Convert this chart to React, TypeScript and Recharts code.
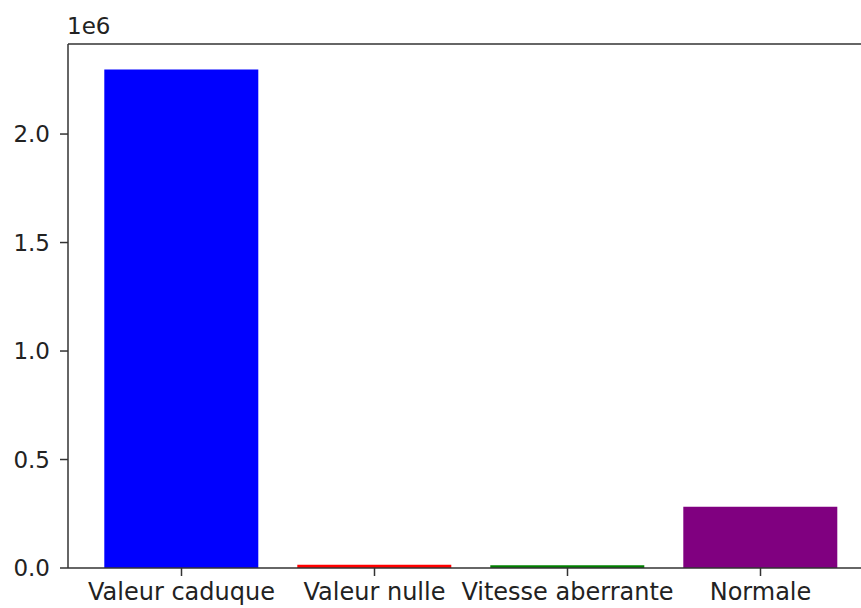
import { Bar, BarChart, Cell, ReferenceLine, XAxis, YAxis } from "recharts"

const categories = ["Valeur caduque", "Valeur nulle", "Vitesse aberrante", "Normale"]
const counts = [2298000, 15000, 13000, 282000]
const barColors = ["#0000ff", "#ff0000", "#008000", "#800080"]
const yTicks = [0, 500000, 1000000, 1500000, 2000000]
const yMax = 2415000

const data = categories.map((name, i) => ({ name, count: counts[i] }))

const font = "'DejaVu Sans', sans-serif"
const axisColor = "#333"

export default function App() {
    return (
        <div style={{ position: "fixed", left: 0, top: 0, width: 861, height: 608, overflow: "hidden", background: "#fff", fontFamily: font }}>
            <div style={{ position: "absolute", left: 67, top: 13, fontSize: 23, color: "#222" }}>1e6</div>
            <BarChart
                width={894}
                height={608}
                data={data}
                margin={{ top: 44, right: 20, bottom: 0, left: 0 }}
                barCategoryGap="10%"
            >
                <XAxis
                    dataKey="name"
                    height={40}
                    padding={{ left: 17, right: 17 }}
                    stroke={axisColor}
                    strokeWidth={1.5}
                    tickSize={8}
                    tickMargin={7}
                    tick={{ fill: "#222", fontSize: 24, fontFamily: font }}
                    interval={0}
                />
                <YAxis
                    width={68}
                    domain={[0, yMax]}
                    ticks={yTicks}
                    stroke={axisColor}
                    strokeWidth={1.5}
                    tickSize={8}
                    tickMargin={10}
                    tick={{ fill: "#222", fontSize: 23, fontFamily: font }}
                    tickFormatter={(v) => (v / 1e6).toFixed(1)}
                    allowDataOverflow
                />
                <ReferenceLine y={yMax} stroke={axisColor} strokeWidth={1.5} />
                <Bar dataKey="count" isAnimationActive={false}>
                    {data.map((d, i) => (
                        <Cell key={d.name} fill={barColors[i]} />
                    ))}
                </Bar>
            </BarChart>
        </div>
    )
}
